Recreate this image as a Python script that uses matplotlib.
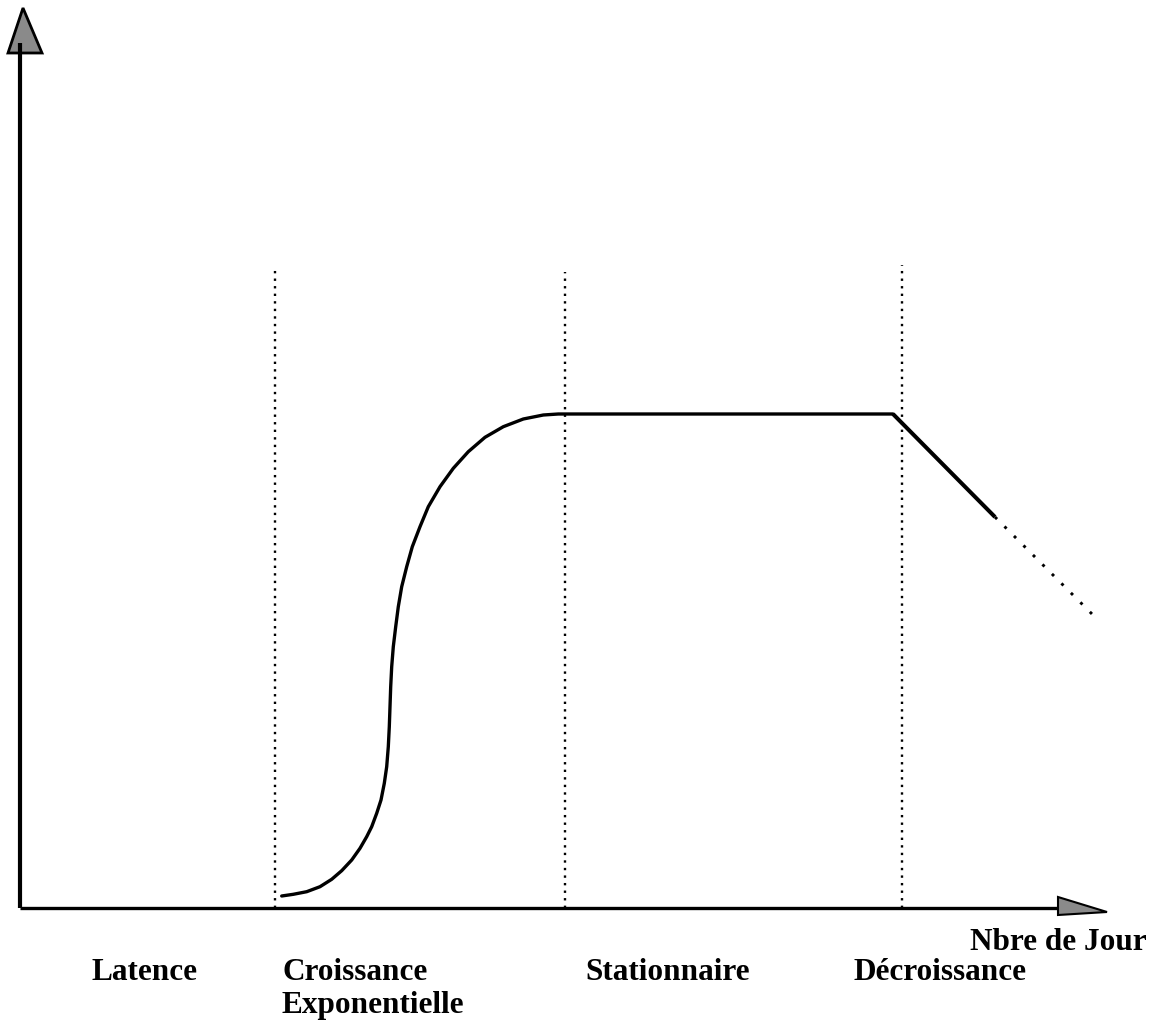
import numpy as np
import matplotlib
matplotlib.use('Agg')
import matplotlib.pyplot as plt
from matplotlib.patches import Polygon

croiss_x = [26.17, 27.33, 28.67, 30.0, 31.17, 32.17, 33.17, 34.0, 34.67, 35.17,
            35.67, 36.1, 36.43, 36.67, 36.83, 36.93, 37.0, 37.07, 37.17, 37.33,
            37.57, 37.83, 38.17, 38.67, 39.23, 40.0, 40.83, 42.0, 43.33, 44.83,
            46.5, 48.33, 50.33, 52.33, 53.83, 87.3]
croiss_y = [1.2, 1.37, 1.63, 2.13, 2.87, 3.73, 4.8, 5.97, 7.13, 8.13,
            9.47, 10.8, 12.47, 14.13, 16.13, 18.13, 20.13, 22.13, 24.13, 26.13,
            28.13, 30.13, 32.13, 34.13, 36.13, 38.13, 40.13, 42.13, 43.97, 45.63,
            47.07, 48.13, 48.9, 49.3, 49.4, 49.4]
declin_x = [87.3, 97.5]
declin_y = [49.4, 39.1]
declin_pointille_x = [97.5, 107.2]
declin_pointille_y = [39.1, 29.4]

# limites des phases
phases_x = [25.5, 54.5, 88.2]
phases_haut = [63.8, 63.6, 64.3]

etiquettes = ['Latence', 'Croissance', 'Stationnaire', u'Décroissance']
etiquettes_x = [7.2, 26.2, 56.5, 83.3]

fig = plt.figure(figsize=[11.65, 10.24], dpi=100)
ax = fig.add_axes([0, 0, 1, 1])
ax.set_xlim(-2, 114.5)
ax.set_ylim(-11.6, 90.8)
ax.axis('off')

# axes avec fleches
ax.plot([0, 0], [0, 86.5], color='black', lw=3, solid_capstyle='butt')
ax.plot([0, 103.8], [0, 0], color='black', lw=2.4, solid_capstyle='butt')
ax.add_patch(Polygon([[-1.2, 85.5], [0.3, 90.0], [2.2, 85.5]], closed=True,
                     facecolor='#8a8a8a', edgecolor='black', lw=2))
ax.add_patch(Polygon([[103.8, 1.1], [108.7, -0.4], [103.8, -0.7]], closed=True,
                     facecolor='#8a8a8a', edgecolor='black', lw=1.5))

# lignes verticales pointillees
for px, ph in zip(phases_x, phases_haut):
    ax.plot([px, px], [0, ph], color='black', lw=1.7, linestyle=(0, (1, 2.2)))

ax.plot(croiss_x, croiss_y, color='black', lw=2.4, solid_joinstyle='round',
        solid_capstyle='round')
ax.plot(declin_x, declin_y, color='black', lw=2.9, solid_capstyle='butt')
ax.plot(declin_pointille_x, declin_pointille_y, color='black', lw=2.1,
        linestyle=(0, (1, 3.6)))

police = dict(family='Liberation Serif', fontweight='bold', fontsize=22.5)
for txt, tx in zip(etiquettes, etiquettes_x):
    ax.text(tx, -7.2, txt, ha='left', va='baseline', **police)
ax.text(26.2, -10.5, 'Exponentielle', ha='left', va='baseline', **police)
ax.text(95.0, -4.2, 'Nbre de Jour', ha='left', va='baseline', **police)

plt.savefig('out.png', dpi=100)
plt.close('all')
